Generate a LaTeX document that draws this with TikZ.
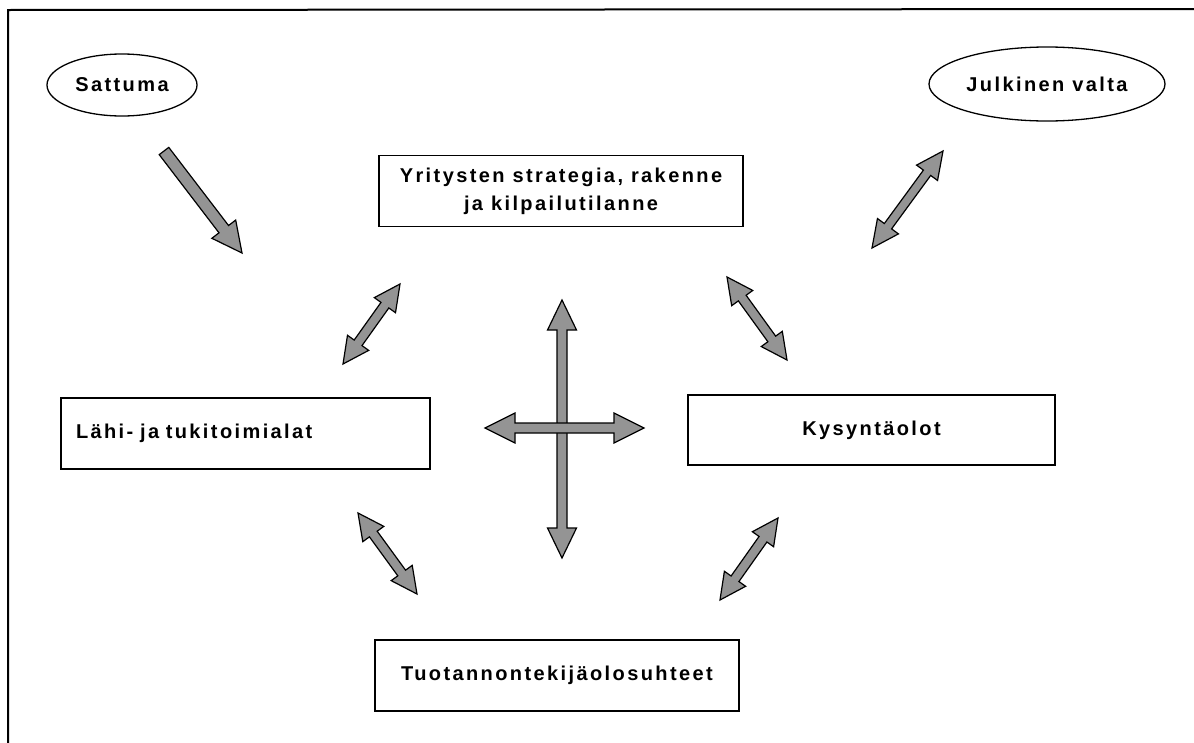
\documentclass[tikz,border=0pt]{standalone}
\usepackage{fontspec}
\newfontfamily\lblfont[LetterSpace=12]{Liberation Sans}
\usetikzlibrary{calc,shapes.geometric}

\tikzset{
  lbl/.style={font=\lblfont\bfseries\fontsize{20}{28}\selectfont},
  ell/.style={draw, line width=1.3pt, ellipse, inner sep=0pt, lbl},
  box/.style={draw, line width=1.3pt, rectangle, inner sep=0pt, lbl, align=center},
  fatarrow/.style={draw=black, line width=1.2pt, fill=black!42, line join=miter},
  fatfill/.style={fill=black!42},
  frame/.style={draw, line width=2pt}
}

% double-headed fat arrow: #1 A, #2 B, #3 head length, #4 head half-width, #5 shaft half-width
\newcommand\dbarrow[5]{%
  \coordinate (tmpP) at ($(#1)!#3!(#2)$);
  \coordinate (tmpQ) at ($(#2)!#3!(#1)$);
  \filldraw[fatarrow] (#1)
    -- ($(tmpP)!#4!90:(#2)$) -- ($(tmpP)!#5!90:(#2)$)
    -- ($(tmpQ)!#5!-90:(#1)$) -- ($(tmpQ)!#4!-90:(#1)$)
    -- (#2)
    -- ($(tmpQ)!#4!90:(#1)$) -- ($(tmpQ)!#5!90:(#1)$)
    -- ($(tmpP)!#5!-90:(#2)$) -- ($(tmpP)!#4!-90:(#2)$)
    -- cycle;}
% single-headed fat arrow from #1 to #2
\newcommand\sgarrow[5]{%
  \coordinate (tmpQ) at ($(#2)!#3!(#1)$);
  \filldraw[fatarrow] ($(#1)!#5!-90:(#2)$)
    -- ($(tmpQ)!#5!90:(#1)$) -- ($(tmpQ)!#4!90:(#1)$)
    -- (#2)
    -- ($(tmpQ)!#4!-90:(#1)$) -- ($(tmpQ)!#5!-90:(#1)$)
    -- ($(#1)!#5!90:(#2)$)
    -- cycle;}

\begin{document}
\begin{tikzpicture}[x=1pt,y=-1pt]
\useasboundingbox (0,0) rectangle (1194,742);

% frame
\coordinate (frTR) at (1196,9);
\coordinate (frTL) at (8,10);
\coordinate (frBL) at (8,744);
\draw[frame] (frTR) -- (frTL) -- (frBL);

% ellipses
\node[ell, minimum width=150pt, minimum height=62pt] (sattuma) at (122,85) {Sattuma};
\node[ell, minimum width=236pt, minimum height=74pt] (julkinen) at (1047,84) {Julkinen valta};

% boxes
\node[box, minimum width=364pt, minimum height=71pt] (yritys) at (561,191) {Yritysten strategia, rakenne\\ja kilpailutilanne};
\node[box, minimum width=369pt, minimum height=71pt, text width=339pt, align=left, inner xsep=15pt] (lahi) at (245.5,433.5) {Lähi- ja tukitoimialat};
\node[box, minimum width=367pt, minimum height=70pt] (kysynta) at (871.5,430) {Kysyntäolot};
\node[box, minimum width=364pt, minimum height=71pt] (tuotanto) at (557,675.5) {Tuotannontekijäolosuhteet};

% arrow end points
\coordinate (sA) at (164,151);  \coordinate (sB) at (242,253);
\coordinate (jA) at (943,151);  \coordinate (jB) at (872,248);
\coordinate (tlA) at (400,284); \coordinate (tlB) at (343,364);
\coordinate (trA) at (727,277); \coordinate (trB) at (787,360);
\coordinate (blA) at (358,513); \coordinate (blB) at (417,594);
\coordinate (brA) at (778,518); \coordinate (brB) at (720,600);
\coordinate (vA) at (562,300);  \coordinate (vB) at (562,558);
\coordinate (hA) at (485,428);  \coordinate (hB) at (644,428);
\coordinate (cross) at (562,428);

\sgarrow{sA}{sB}{30pt}{15pt}{6pt}
\dbarrow{jA}{jB}{27pt}{13pt}{4.5pt}
\dbarrow{tlA}{tlB}{26pt}{13pt}{4.8pt}
\dbarrow{trA}{trB}{26pt}{13pt}{4.8pt}
\dbarrow{blA}{blB}{26pt}{13pt}{4.8pt}
\dbarrow{brA}{brB}{26pt}{13pt}{4.8pt}
\dbarrow{vA}{vB}{30pt}{14.5pt}{5pt}
\dbarrow{hA}{hB}{30pt}{15pt}{5pt}
\fill[fatfill] ($(cross)+(-4.4,-4.4)$) rectangle ($(cross)+(4.4,4.4)$);
\end{tikzpicture}
\end{document}
